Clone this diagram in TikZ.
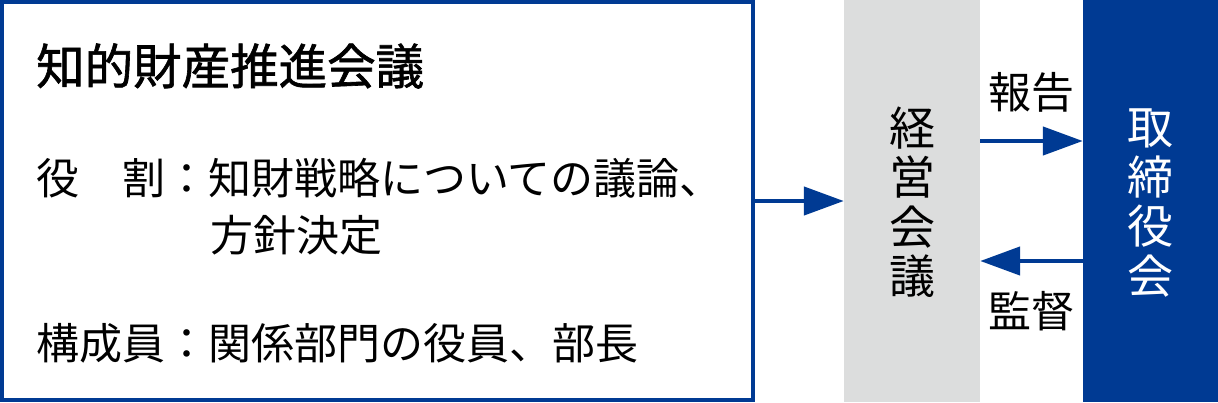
\documentclass[tikz,border=0pt]{standalone}
\usepackage{fontspec}
\setmainfont{Noto Sans CJK JP}
\newfontfamily\midfont[FakeBold=1.3]{Noto Sans CJK JP}
\usetikzlibrary{arrows.meta}
\definecolor{kblue}{HTML}{003A93}
\definecolor{kgray}{HTML}{DCDDDD}
\tikzset{
	flow/.style={kblue, line width=4.5pt, -{Triangle[length=40pt 0, width=28pt 0]}},
	body/.style={anchor=west, inner sep=0pt, font=\fontsize{43}{43}\selectfont},
	tate/.style={inner sep=0pt, align=center, font=\fontsize{46}{49.5}\selectfont},
}
\begin{document}
\begin{tikzpicture}[x=1pt,y=-1pt]
	\useasboundingbox (0,0) rectangle (1218,402);
	\node[draw=kblue, line width=4pt, minimum width=751pt, minimum height=398pt, inner sep=0pt] (kaigi) at (377.5,201) {};
	\node[fill=kgray, minimum width=136pt, minimum height=402pt, inner sep=0pt] (keiei) at (912,201) {};
	\node[fill=kblue, minimum width=135pt, minimum height=402pt, inner sep=0pt] (board) at (1150.5,201) {};
	\node[anchor=west, inner sep=0pt, font=\midfont\fontsize{48.5}{48.5}\selectfont] (title) at (36,66) {知的財産推進会議};
	\node[body] (role) at (36,178) {役　割：知財戦略についての議論、};
	\node[body] (role2) at (210,235) {方針決定};
	\node[body] (member) at (36,343) {構成員：関係部門の役員、部長};
	\node[tate] (keieitxt) at (912,202) {経\\営\\会\\議};
	\node[tate, white] (boardtxt) at (1150.5,203) {取\\締\\役\\会};
	\node[inner sep=0pt, font=\fontsize{43}{43}\selectfont] (houkoku) at (1031,92) {報告};
	\node[inner sep=0pt, font=\fontsize{43}{43}\selectfont] (kansa) at (1031,311) {監督};
	\draw[flow] (kaigi.east) -- (keiei.west);
	\draw[flow] (keiei.east |- 0,141) -- (board.west |- 0,141);
	\draw[flow] (board.west |- 0,261) -- (keiei.east |- 0,261);
\end{tikzpicture}
\end{document}
